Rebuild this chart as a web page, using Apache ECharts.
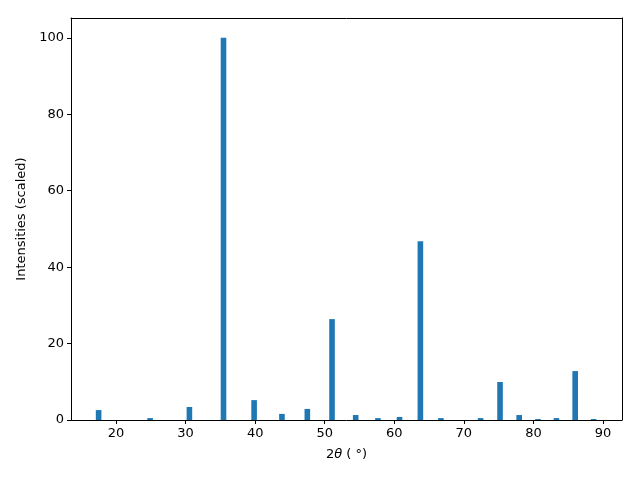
<!DOCTYPE html>
<html>
<head>
<meta charset="utf-8">
<script src="https://cdn.jsdelivr.net/npm/echarts@6/dist/echarts.min.js"></script>
<style>
    html, body {margin: 0; padding: 0; background: #fff;}
    #chart {width: 640px; height: 480px;}
</style>
</head>
<body>
<div id="chart"></div>
<script>
// peak positions (2θ) and scaled intensities
const twoTheta = [17.5, 24.9, 30.55, 35.45, 39.85, 43.85, 47.5, 51.05, 54.45, 57.65,
    60.75, 63.75, 66.7, 72.4, 75.2, 77.95, 80.65, 83.3, 86.0, 88.65];
const intensity = [2.6, 0.5, 3.4, 100, 5.2, 1.6, 2.9, 26.4, 1.3, 0.5,
    0.8, 46.8, 0.5, 0.5, 9.95, 1.3, 0.26, 0.5, 12.8, 0.26];
const xTicks = [20, 30, 40, 50, 60, 70, 80, 90];
const yTicks = [0, 20, 40, 60, 80, 100];

const chart = echarts.init(document.getElementById('chart'));

const axisText = {color: '#000', fontFamily: 'DejaVu Sans', fontSize: 13};
const line = {show: true, onZero: false, lineStyle: {color: '#000', width: 1}};

const option = {
    animation: false,
    grid: {left: 71, right: 18, top: 18, bottom: 60, containLabel: false},
    xAxis: [
        {
            type: 'value',
            min: 13.53,
            max: 92.73,
            axisLine: line,
            splitLine: {show: false},
            axisTick: {show: true, inside: false, length: 4, customValues: xTicks, lineStyle: {color: '#000'}},
            axisLabel: Object.assign({customValues: xTicks, margin: 7}, axisText),
            name: '2{i|θ} ( °)',
            nameLocation: 'middle',
            nameGap: 28,
            nameTextStyle: Object.assign({rich: {i: Object.assign({fontStyle: 'italic'}, axisText)}}, axisText)
        },
        {
            type: 'value', position: 'top', min: 13.53, max: 92.73,
            axisLine: line, axisTick: {show: false}, axisLabel: {show: false}, splitLine: {show: false}
        }
    ],
    yAxis: [
        {
            type: 'value',
            min: 0,
            max: 105.2,
            axisLine: line,
            splitLine: {show: false},
            axisTick: {show: true, inside: false, length: 4, customValues: yTicks, lineStyle: {color: '#000'}},
            axisLabel: Object.assign({customValues: yTicks, margin: 7}, axisText),
            name: 'Intensities (scaled)',
            nameLocation: 'middle',
            nameGap: 42,
            nameTextStyle: axisText
        },
        {
            type: 'value', position: 'right', min: 0, max: 105.2,
            axisLine: line, axisTick: {show: false}, axisLabel: {show: false}, splitLine: {show: false}
        }
    ],
    series: [{
        type: 'bar',
        data: twoTheta.map((t, i) => [t, intensity[i]]),
        barWidth: 5.6,
        itemStyle: {color: '#1f77b4'}
    }]
};
chart.setOption(option);
</script>
</body>
</html>
